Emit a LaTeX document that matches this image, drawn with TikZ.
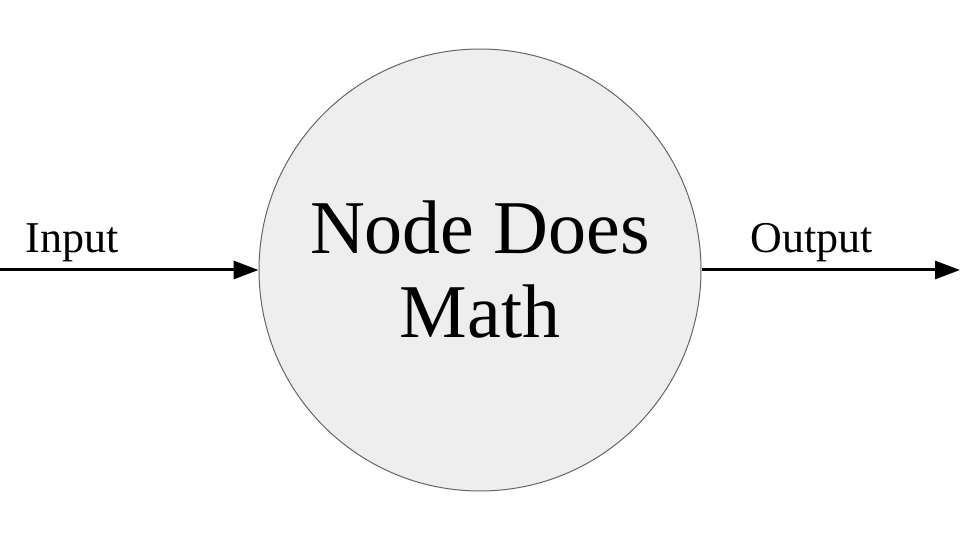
\documentclass[tikz,border=0pt]{standalone}
\usepackage{fontspec}
\setmainfont{Liberation Serif}
\usetikzlibrary{arrows.meta}
\definecolor{nodefill}{HTML}{EEEEEE}
\definecolor{nodeline}{HTML}{666666}
\begin{document}
\begin{tikzpicture}[x=0.5pt,y=-0.5pt,
  mathnode/.style={circle,fill=nodefill,draw=nodeline,line width=0.5pt,minimum size=221pt,inner sep=0pt},
  flow/.style={line width=1.5pt,-{Triangle[length=12.5pt,width=9pt]}},
  lbl/.style={anchor=base,font=\fontsize{22}{26}\selectfont}]
\useasboundingbox (0,0) rectangle (960,540);
\node[mathnode] (n) at (480,270) {};
\node[align=center,font=\fontsize{38}{42}\selectfont,anchor=base] (t) at (480,337) {Node Does\\Math};
\coordinate (in) at (0,270);
\coordinate (out) at (960,270);
\draw[flow] (in) -- (n.west);
\draw[flow] (n.east) -- (out);
\node[lbl] (il) at (72,253) {Input};
\node[lbl] (ol) at (812,253) {Output};
\end{tikzpicture}
\end{document}
